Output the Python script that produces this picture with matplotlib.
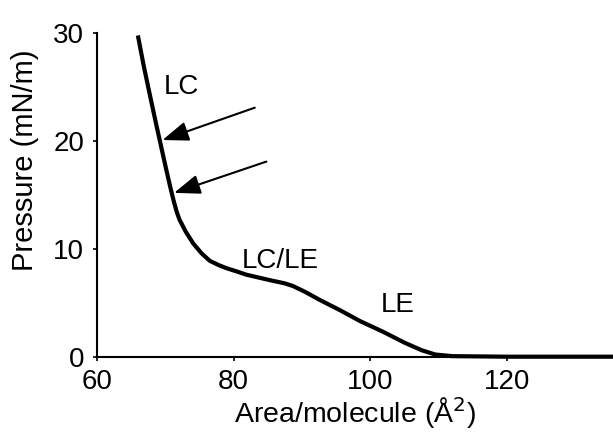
import matplotlib
matplotlib.use("Agg")
import matplotlib.pyplot as plt

plt.rcParams['font.family'] = ['Liberation Sans', 'DejaVu Sans']

# Isotherm data (area per molecule in Å^2, surface pressure in mN/m)
area = [66.0, 66.85, 67.85, 68.7, 69.4, 70.1, 70.75, 71.3, 71.7, 72.1, 73.0,
        74.1, 75.3, 76.5, 77.8, 79.0, 80.5, 81.9, 83.6, 85.3, 87.5, 88.7,
        90.5, 92.5, 95.6, 98.5, 101.9, 105.0, 107.5, 109.5, 112.0, 120.0, 135.5]
pressure = [29.8, 27.0, 24.0, 21.5, 19.5, 17.5, 15.7, 14.3, 13.4, 12.7, 11.6,
            10.5, 9.6, 8.9, 8.5, 8.2, 7.9, 7.6, 7.35, 7.1, 6.8, 6.55,
            6.0, 5.3, 4.3, 3.3, 2.3, 1.3, 0.6, 0.2, 0.05, 0.0, 0.0]

xticks = [60, 80, 100, 120]
yticks = [0, 10, 20, 30]

phase_labels = ["LC", "LC/LE", "LE"]
phase_x = [72.4, 86.8, 104.0]
phase_y = [25.0, 8.9, 4.8]

arrow_tail = [(83.1, 23.1), (84.8, 18.1)]
arrow_tip = [(69.6, 20.1), (71.3, 15.2)]

fig = plt.figure(figsize=(6.13, 4.37), dpi=100)
ax = fig.add_axes([0.158, 0.1838, 0.842, 0.74])
ax.plot(area, pressure, color='black', lw=3, clip_on=False,
        solid_capstyle='butt', solid_joinstyle='round')

ax.set_xlim(60, 135.5)
ax.set_ylim(0, 30)
ax.set_xticks(xticks)
ax.set_yticks(yticks)
ax.spines['top'].set_visible(False)
ax.spines['right'].set_visible(False)
ax.spines['left'].set_linewidth(1.5)
ax.spines['bottom'].set_linewidth(1.5)
ax.tick_params(axis='both', labelsize=20, length=3, width=1.2, direction='out', pad=6)

ax.set_xlabel("Area/molecule (Å$^2$)", fontsize=20.5, labelpad=0)
ax.set_ylabel("Pressure (mN/m)", fontsize=21)
ax.yaxis.set_label_coords(-0.112, 0.608)

for t, x, y in zip(phase_labels, phase_x, phase_y):
    ax.text(x, y, t, fontsize=20, ha='center', va='center')

for tail, tip in zip(arrow_tail, arrow_tip):
    ax.annotate("", xy=tip, xytext=tail,
                arrowprops=dict(arrowstyle="-|>,head_length=0.8,head_width=0.3",
                                color='black', lw=1.5, mutation_scale=20,
                                shrinkA=0, shrinkB=0))

fig.savefig("out.png", dpi=100)
